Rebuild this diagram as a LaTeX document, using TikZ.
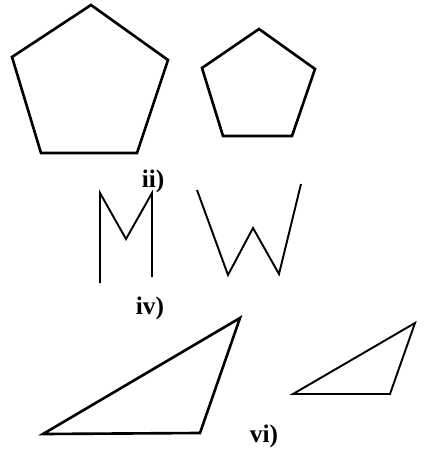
\documentclass[tikz,border=0pt]{standalone}
\usepackage{fontspec}
\setmainfont{Liberation Serif}
\usepackage{tikz}
\tikzset{
  fig/.style={black, line width=1.5pt, line join=miter},
  thin fig/.style={black, line width=1.1pt, line join=miter},
  lbl/.style={font=\bfseries\Large, inner sep=0pt}
}

\begin{document}
\begin{tikzpicture}[x=0.02cm, y=-0.02cm]
  \useasboundingbox (0,0) rectangle (427,453);
  % pentagons
  \draw[fig] (91,5) -- (168,60) -- (137,153) -- (41,153) -- (12,57) -- cycle;
  \draw[fig] (259,29) -- (315,69) -- (292,136) -- (223,136) -- (202,68) -- cycle;
  \node[lbl] (ii) at (153,181) {ii)};
  % M and W
  \draw[thin fig] (100,283) -- (100,193) -- (126,239) -- (152,193) -- (152,277);
  \draw[thin fig] (197,190) -- (228,275) -- (253,228) -- (279,274) -- (301,184);
  \node[lbl] (iv) at (150,308) {iv)};
  % triangles
  \draw[fig] (43,434) -- (200,433) -- (240,318) -- cycle;
  \draw[thin fig] (293,394) -- (390,394) -- (415,323) -- cycle;
  \node[lbl] (vi) at (264,436) {vi)};
\end{tikzpicture}
\end{document}
